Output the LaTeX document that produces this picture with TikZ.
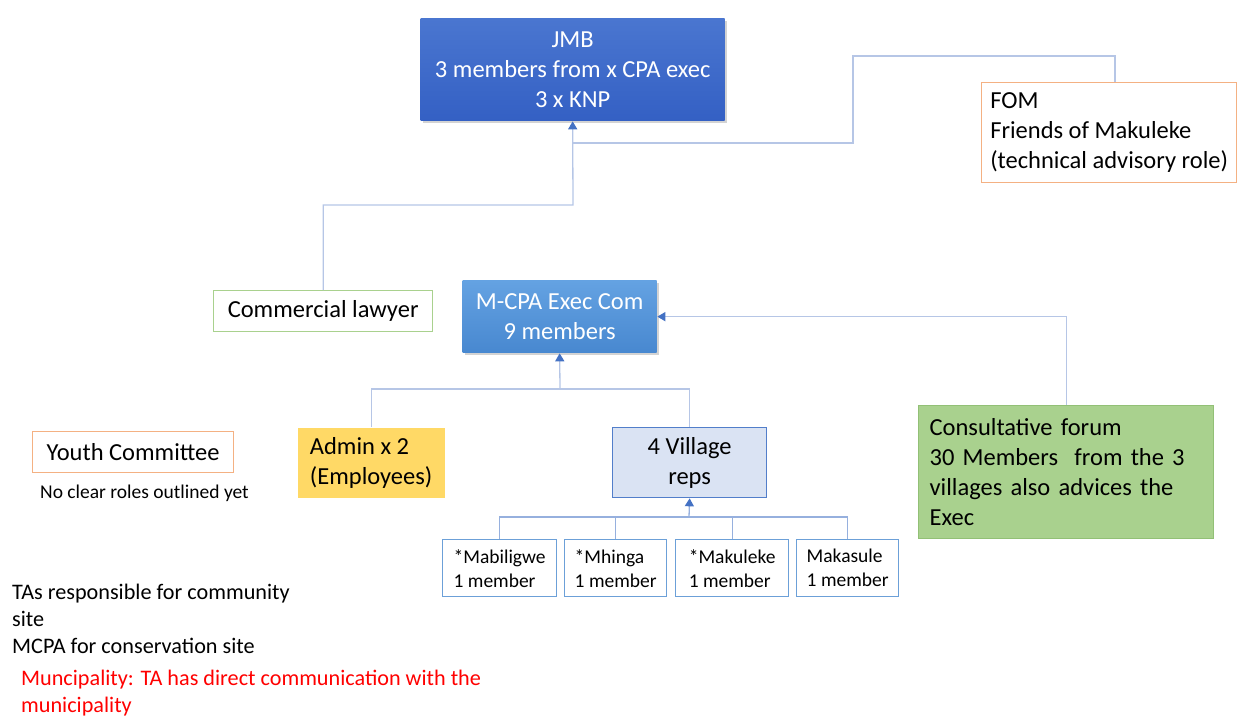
\documentclass[tikz,border=0pt]{standalone}
\usepackage{fontspec}
\setmainfont{Carlito}
\usetikzlibrary{arrows.meta}
\usetikzlibrary{shadows}

\definecolor{jmbtop}{RGB}{74,118,208}
\definecolor{jmbbot}{RGB}{52,96,196}
\definecolor{cpatop}{RGB}{100,162,226}
\definecolor{cpabot}{RGB}{72,136,208}
\definecolor{linkline}{RGB}{182,198,230}
\definecolor{villline}{RGB}{150,176,222}
\definecolor{tipblue}{RGB}{68,114,196}
\definecolor{orangeline}{RGB}{244,177,131}
\definecolor{greenline}{RGB}{169,209,142}
\definecolor{forumfill}{RGB}{169,209,142}
\definecolor{forumline}{RGB}{146,192,118}
\definecolor{adminfill}{RGB}{255,217,102}
\definecolor{repsfill}{RGB}{218,227,243}
\definecolor{repsline}{RGB}{82,126,202}
\definecolor{villbox}{RGB}{108,160,216}

\newcommand{\boxfont}{\fontsize{24.5}{30}\selectfont}
\newcommand{\remfont}{\fontsize{22.2}{27}\selectfont}
\newcommand{\villfont}{\fontsize{19.5}{24}\selectfont}
\newcommand{\notefont}{\fontsize{19.5}{23}\selectfont}

\begin{document}
\begin{tikzpicture}[x=1pt, y=-1pt,
        box/.style={rectangle, anchor=north west, inner sep=0pt,
            line width=1.3pt, font=\boxfont},
        village/.style={box, draw=villbox, align=left,
            minimum height=57pt, font=\villfont},
        conn/.style={draw=linkline, line width=1.3pt},
        villconn/.style={draw=villline, line width=1.3pt},
        tip/.style={-{Triangle[length=8pt, width=9pt, color=tipblue]}}]

        \useasboundingbox (0,0) rectangle (1237,718);

        \node[box,
            top color=jmbtop, bottom color=jmbbot, text=white,
            drop shadow={opacity=0.35, shadow xshift=2pt, shadow yshift=-2pt},
            minimum width=304pt, minimum height=102pt, align=center]
        (jmb) at (420,18) {JMB\\3 members from x CPA exec\\3 x KNP};

        \node[box, draw=orangeline, fill=white,
            minimum width=255pt, minimum height=100pt, align=left]
        (fom) at (981,82) {FOM\\Friends of Makuleke\\(technical advisory role)};

        \node[box, draw=greenline, fill=white,
            minimum width=219pt, minimum height=41pt, align=center]
        (lawyer) at (213,290) {Commercial lawyer};

        \node[box,
            top color=cpatop, bottom color=cpabot, text=white,
            drop shadow={opacity=0.35, shadow xshift=2pt, shadow yshift=-2pt},
            minimum width=194pt, minimum height=72pt, align=center]
        (mcpa) at (462,280) {M-CPA Exec Com\\9 members};

        \node[box, draw=forumline, fill=forumfill, inner xsep=11pt,
            text width=273pt, minimum height=133pt, align=left]
        (forum) at (918,405)
        {Consultative forum\\30 Members\ \ from the 3\\villages also advices the\\Exec};

        \node[box, fill=adminfill,
            minimum width=147pt, minimum height=70pt, align=left]
        (admin) at (297,427) {Admin x 2\\(Employees)};

        \node[box, draw=repsline, fill=repsfill,
            minimum width=154pt, minimum height=70pt, align=center]
        (reps) at (612,427) {4 Village\\reps};

        \node[box, draw=orangeline, fill=white,
            minimum width=201pt, minimum height=41pt, align=center]
        (youth) at (32,431) {Youth Committee};

        \node[anchor=west, inner sep=0pt, font=\notefont]
        (noroles) at (40,493) {No clear roles outlined yet};

        \node[village, minimum width=114pt] (mab) at (442,539) {*Mabiligwe\\1 member};
        \node[village, minimum width=102pt] (mhi) at (564,539) {*Mhinga\\1 member};
        \node[village, minimum width=113pt] (mak) at (675,539) {*Makuleke\\1 member};
        \node[village, minimum width=102pt] (mks) at (796,539) {Makasule\\1 member};

        \node[anchor=north west, inner sep=0pt, align=left, font=\remfont]
        (tas) at (12,584)
        {TAs responsible for community\\site\\MCPA for conservation site};

        \node[anchor=north west, inner sep=0pt, align=left, font=\remfont,
            text=red]
        (muni) at (21,670)
        {Muncipality: TA has direct communication with the\\municipality};

        \coordinate (lawbend) at (573,205);
        \coordinate (fombend) at (573,143);
        \coordinate (fomup) at (853,56);
        \coordinate (fomtop) at (1115,82);
        \coordinate (adminbus) at (560,389);
        \coordinate (villbus) at (689,517);

        \draw[conn, tip] (lawyer.north) |- (lawbend) -- (jmb.south);
        \draw[conn] (fomtop) |- (fomup) |- (fombend);

        \draw[conn, tip] (forum.north) |- (mcpa.east);

        \draw[conn] (admin.north) |- (adminbus) -| (reps.north);
        \draw[conn, tip] (adminbus) -- (mcpa.south);

        \foreach \v in {mab, mhi, mak, mks}
        {
            \draw[villconn] (\v.north) |- (villbus);
        }
        \draw[villconn, tip] (villbus) -- (reps.south);
\end{tikzpicture}
\end{document}
